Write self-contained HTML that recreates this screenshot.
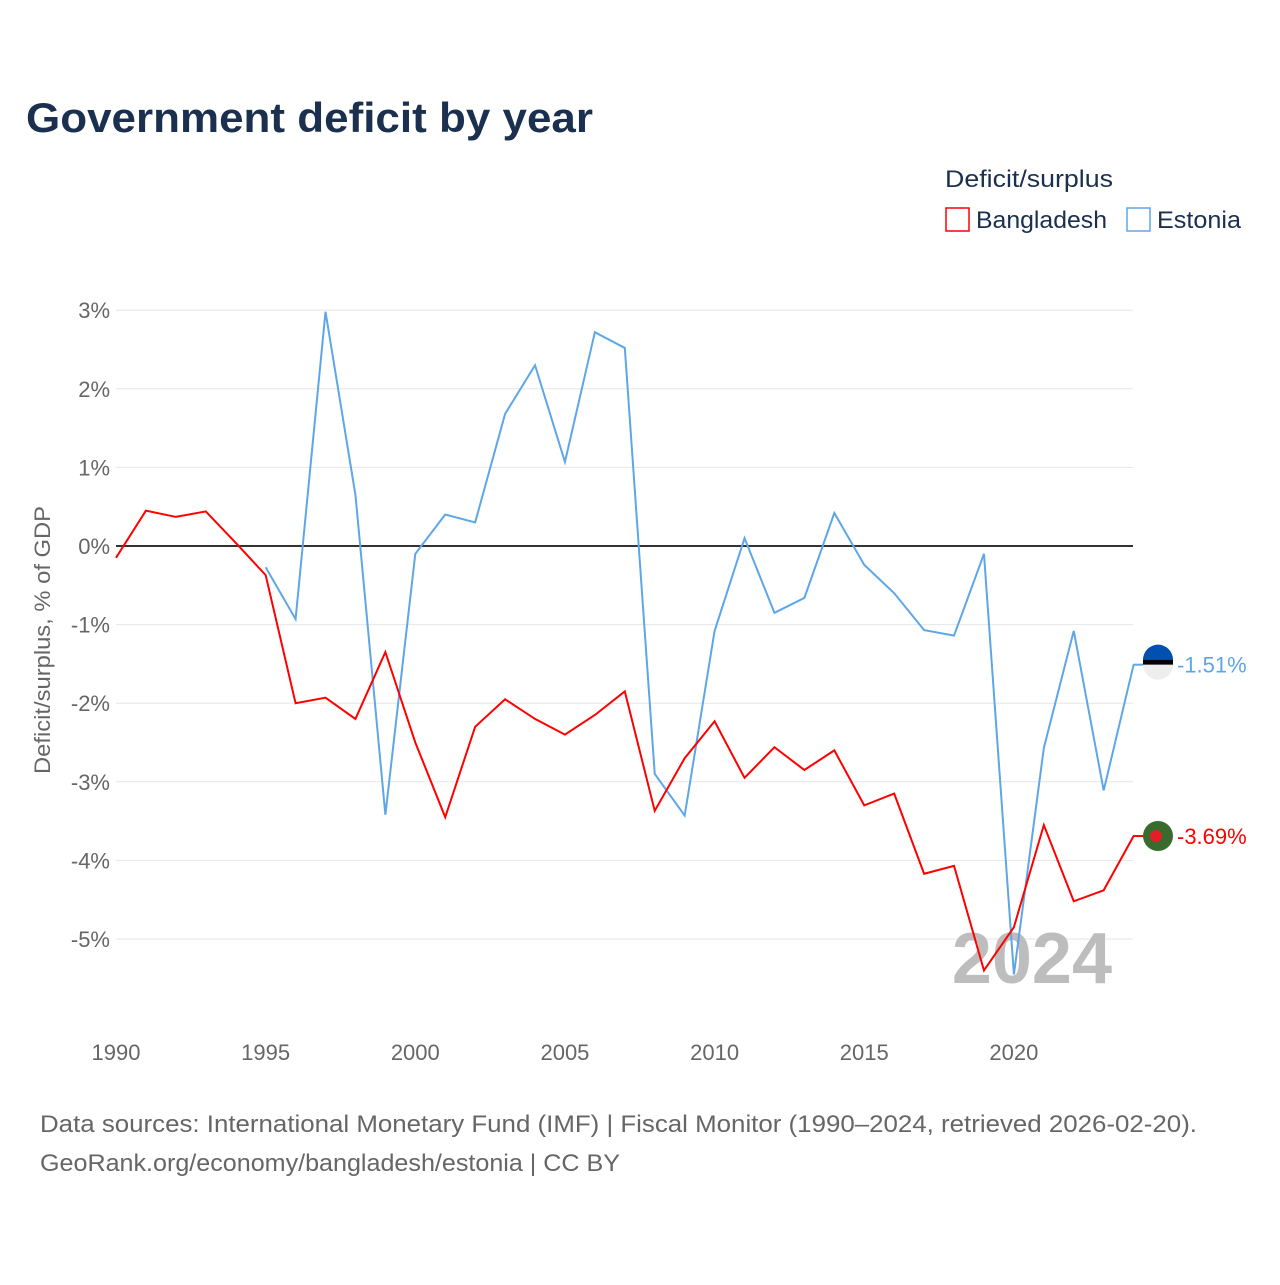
<!DOCTYPE html>
<html><head><meta charset="utf-8"><style>
body{margin:0;background:#fff;font-family:"Liberation Sans",sans-serif}
svg text{font-family:"Liberation Sans",sans-serif}
</style></head><body>
<svg id="c" width="1280" height="1280">
<text x="26" y="132" font-size="42" font-weight="bold" fill="#1b2f4e" textLength="567" lengthAdjust="spacingAndGlyphs">Government deficit by year</text>
<text x="945" y="187" font-size="24" fill="#1b2f4e" textLength="168" lengthAdjust="spacingAndGlyphs">Deficit/surplus</text>
<g><rect x="946" y="208" width="23" height="23" fill="none" stroke="#ff0000" stroke-width="1.5"/><text x="976" y="228" font-size="24" fill="#1b2f4e" textLength="131" lengthAdjust="spacingAndGlyphs">Bangladesh</text></g>
<g><rect x="1127" y="208" width="23" height="23" fill="none" stroke="#5ea6e8" stroke-width="1.5"/><text x="1157" y="228" font-size="24" fill="#1b2f4e" textLength="84" lengthAdjust="spacingAndGlyphs">Estonia</text></g>
<g id="grid"></g><g id="ax"></g>
<text x="1112" y="983" font-size="72" font-weight="bold" fill="#bdbdbd" text-anchor="end">2024</text>
<g id="series"></g>
<text transform="translate(50,640) rotate(-90)" font-size="22" fill="#666" text-anchor="middle" textLength="268" lengthAdjust="spacingAndGlyphs">Deficit/surplus, % of GDP</text>
<text x="40" y="1132" font-size="24" fill="#666" textLength="1157" lengthAdjust="spacingAndGlyphs">Data sources: International Monetary Fund (IMF) | Fiscal Monitor (1990–2024, retrieved 2026-02-20).</text>
<text x="40" y="1171" font-size="24" fill="#666" textLength="580" lengthAdjust="spacingAndGlyphs">GeoRank.org/economy/bangladesh/estonia | CC BY</text>
</svg>
<script>
const years=[];for(let y=1990;y<=2024;y++)years.push(y);
const bangladesh=[-0.15,0.45,0.37,0.44,0.04,-0.37,-2.0,-1.93,-2.2,-1.35,-2.5,-3.45,-2.3,-1.95,-2.2,-2.4,-2.15,-1.85,-3.37,-2.7,-2.23,-2.95,-2.56,-2.85,-2.6,-3.3,-3.15,-4.17,-4.07,-5.4,-4.85,-3.55,-4.52,-4.38,-3.69];
const estoniaYears=[1995,1996,1997,1998,1999,2000,2001,2002,2003,2004,2005,2006,2007,2008,2009,2010,2011,2012,2013,2014,2015,2016,2017,2018,2019,2020,2021,2022,2023,2024];
const estonia=[-0.27,-0.93,2.98,0.65,-3.42,-0.1,0.4,0.3,1.68,2.3,1.07,2.72,2.52,-2.9,-3.43,-1.08,0.1,-0.85,-0.66,0.42,-0.24,-0.6,-1.07,-1.14,-0.1,-5.45,-2.57,-1.08,-3.11,-1.51];
const yTicks=[3,2,1,0,-1,-2,-3,-4,-5];
const xTicks=[1990,1995,2000,2005,2010,2015,2020];
const X=y=>116+(y-1990)*29.93, Y=v=>546-v*78.6;
const NS="http://www.w3.org/2000/svg";
function mk(t,a,p){const e=document.createElementNS(NS,t);for(const k in a)e.setAttribute(k,a[k]);p.appendChild(e);return e;}
const grid=document.getElementById('grid'),ax=document.getElementById('ax'),ser=document.getElementById('series');
yTicks.forEach(v=>{
 const l=mk('line',{x1:116,x2:1133,y1:Y(v),y2:Y(v),stroke:v===0?'#333':'#e6e6e6','stroke-width':v===0?2:1},grid);
 
 
 const t=mk('text',{x:110,y:Y(v)+8,'font-size':22,fill:'#666','text-anchor':'end'},ax);t.textContent=v+'%';
 
 
});
xTicks.forEach(y=>{
 const t=mk('text',{x:X(y),y:1060,'font-size':22,fill:'#666','text-anchor':'middle'},ax);t.textContent=y;
 
 
});
function line(xs,vs,col,name){
 const p=mk('polyline',{points:xs.map((y,i)=>X(y)+','+Y(vs[i])).join(' '),fill:'none',stroke:col,'stroke-width':2},ser);
 
 
}
line(estoniaYears,estonia,'#5ea6e8','estonia-line');
line(years,bangladesh,'#ff0000','bangladesh-line');
function end(v,col,name,flag){
 const y=Y(v);
 mk('line',{x1:1133,x2:1145,y1:y,y2:y,stroke:col,'stroke-width':2},ser);
 const g=mk('g',{},ser);
 
 
 if(flag==='ee'){
  mk('circle',{cx:1158,cy:y,r:15,fill:'#eee'},g);
  mk('path',{d:`M1143 ${y-5} h30 v5 h-30z`,fill:'#000'},g);
  mk('path',{d:`M1143 ${y-5} A15 15 0 0 1 1173 ${y-5}z`,fill:'#0050b0'},g);
 }else{
  mk('circle',{cx:1158,cy:y,r:15,fill:'#3a6b2e'},g);
  mk('circle',{cx:1156,cy:y,r:6,fill:'#e41e26'},g);
 }
 const t=mk('text',{x:1177,y:y+8,'font-size':22,fill:col},ser);t.textContent=v.toFixed(2)+'%';
 
 
}
end(estonia[estonia.length-1],'#5ea6e8','estonia','ee');
end(bangladesh[bangladesh.length-1],'#ff0000','bangladesh','bd');
</script>
</body></html>
